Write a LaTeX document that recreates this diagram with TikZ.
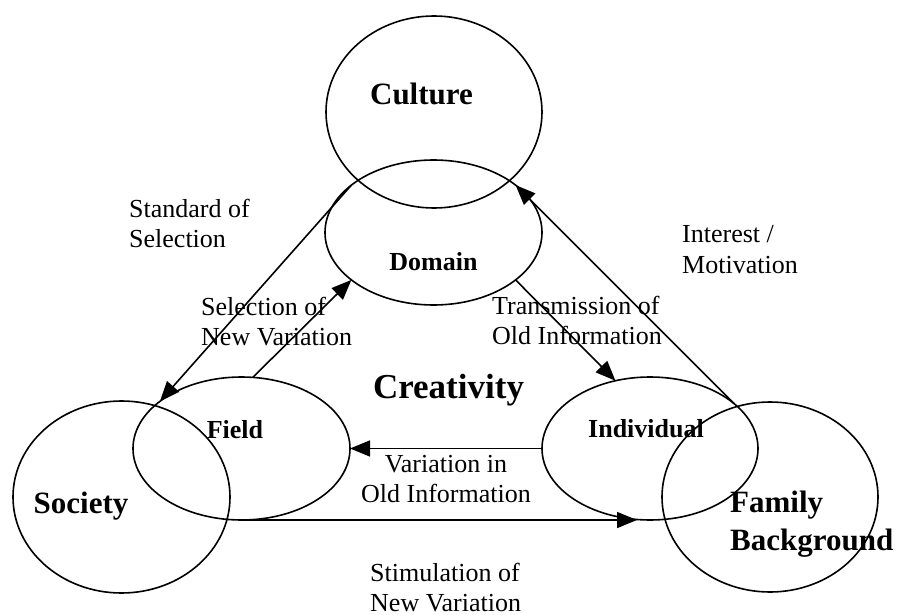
\documentclass[tikz,border=0pt]{standalone}
\usepackage{fontspec}
\setmainfont{Liberation Serif}
\usetikzlibrary{shapes.geometric,arrows.meta}

\begin{document}
\begin{tikzpicture}[x=1bp,y=-1bp,
  ring/.style={ellipse, draw, line width=1.6bp, inner sep=0pt, outer sep=0pt},
  flow/.style={line width=1.6bp, -{Triangle[length=20bp,width=16bp]}},
  txt/.style={font=\fontsize{26bp}{30bp}\selectfont, inner sep=0pt, align=left},
  ctxt/.style={txt, align=center},
  bigname/.style={font=\fontsize{31bp}{38bp}\selectfont\bfseries, inner sep=0pt, align=left},
  smallname/.style={font=\fontsize{26bp}{30bp}\selectfont\bfseries, inner sep=0pt}]
\useasboundingbox (0,0) rectangle (898,615);

% the six overlapping circles
\node[ring, minimum width=216bp, minimum height=192bp] (culture) at (434,112) {};
\node[ring, minimum width=217bp, minimum height=145bp] (domain) at (433.5,232.5) {};
\node[ring, minimum width=217bp, minimum height=143bp] (field) at (241.5,448.5) {};
\node[ring, minimum width=217bp, minimum height=192bp] (society) at (121.5,497) {};
\node[ring, minimum width=216bp, minimum height=143bp] (individual) at (650,448.5) {};
\node[ring, minimum width=216bp, minimum height=190bp] (family) at (770,497) {};

% names inside the circles (multi-line nodes sit on their last baseline)
\node[bigname, anchor=base] (tculture) at (421.5,105) {Culture};
\node[smallname, anchor=base] (tdomain) at (433.5,270) {Domain};
\node[smallname, anchor=base] (tfield) at (235,438) {Field};
\node[smallname, anchor=base] (tindividual) at (646,437) {Individual};
\node[bigname, anchor=base] (tsociety) at (81,513) {Society};
\node[bigname, anchor=base west] (tfamily) at (730,550) {Family\\Background};
\node[font=\fontsize{35bp}{40bp}\selectfont\bfseries, inner sep=0pt, anchor=base] (tcreativity) at (448.5,398) {Creativity};

% connectors between the circles
\draw[flow] (domain.150) -- (field.150);
\draw[flow] (field.81) -- (domain.210);
\draw[flow] (domain.330) -- (individual.117);
\draw[flow] (individual.180) -- (field.0);
\draw[flow] (field.270) -- ([xshift=-13bp]individual.270);
\draw[flow] (individual.28) -- (domain.30);

% connector captions
\node[txt, anchor=base west] (lstandard) at (129,248) {Standard of\\Selection};
\node[txt, anchor=base west] (lselection) at (201,345) {Selection of\\New Variation};
\node[txt, anchor=base west] (ltransmission) at (492,344) {Transmission of\\Old Information};
\node[txt, anchor=base west] (linterest) at (682,273) {Interest /\\Motivation};
\node[ctxt, anchor=base] (lvariation) at (446,502) {Variation in\\Old Information};
\node[txt, anchor=base west] (lstimulation) at (370,611) {Stimulation of\\New Variation};
\end{tikzpicture}
\end{document}
